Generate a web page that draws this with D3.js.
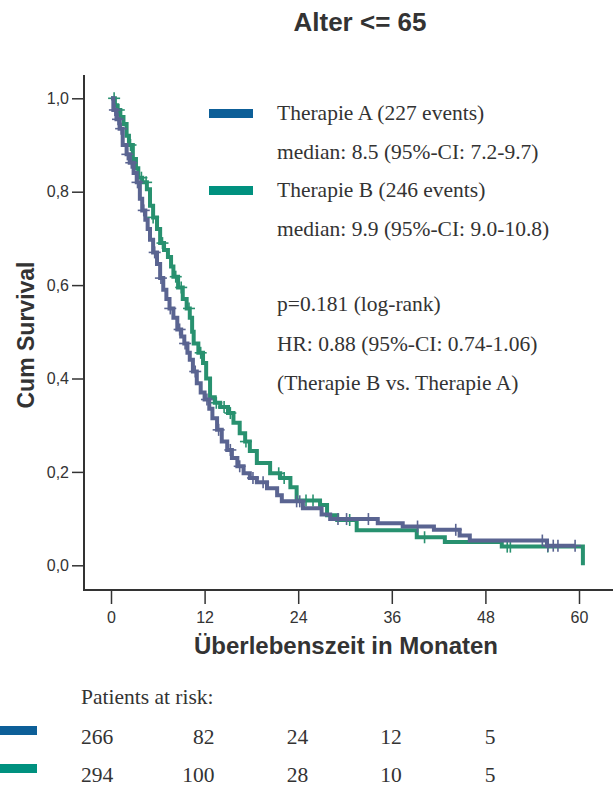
<!DOCTYPE html>
<html>
<head>
<meta charset="utf-8">
<script src="https://cdn.jsdelivr.net/npm/d3@7"></script>
<style>
  body { margin: 0; background: #fff; }
  svg { display: block; }
  .sans { font-family: "Liberation Sans", Arial, sans-serif; fill: #333; }
</style>
</head>
<body>
<svg width="613" height="787"></svg>
<script>
// Therapie A (blue) - step points
var monthsA = [0, 0.3, 0.7, 1.1, 1.5, 2.0, 2.4, 2.9, 3.3, 3.7, 4.0, 4.4, 4.7, 5.0, 5.4, 5.9, 6.3, 6.7, 7.1, 7.5,
  8.0, 8.5, 9.0, 9.4, 9.8, 10.1, 10.5, 11.0, 11.5, 12.0, 12.6, 13.0, 13.6, 14.2, 14.9, 15.5, 16.2, 17.0, 17.8,
  18.7, 20.0, 21.3, 21.9, 24.6, 27.0, 28.1, 34.2, 37.4, 41.4, 44.7, 46.0, 55.9, 59.5];
var survA = [1.0, 0.975, 0.955, 0.935, 0.9, 0.88, 0.862, 0.84, 0.82, 0.785, 0.76, 0.74, 0.72, 0.697, 0.67, 0.645,
  0.615, 0.59, 0.57, 0.55, 0.53, 0.505, 0.49, 0.475, 0.455, 0.44, 0.415, 0.39, 0.37, 0.355, 0.335, 0.315, 0.29,
  0.265, 0.247, 0.23, 0.212, 0.197, 0.187, 0.178, 0.165, 0.15, 0.137, 0.122, 0.109, 0.099, 0.09, 0.083, 0.076,
  0.064, 0.053, 0.042, 0.042];
var censorA = [0.5, 0.9, 1.3, 2.1, 2.6, 3.4, 4.2, 5.6, 6.4, 7.6, 8.8, 9.5, 10.8, 12.3, 13.8, 15.3, 16.5, 18.2,
  19.5, 23.8, 24.2, 29.1, 30.2, 33.0, 39.3, 44.2, 55.3, 56.0, 56.7, 57.3, 59.5];

// Therapie B (green)
var monthsB = [0, 0.5, 0.8, 1.2, 1.6, 2.0, 2.3, 2.8, 3.2, 3.5, 4.0, 4.6, 5.0, 5.4, 5.9, 6.3, 6.8, 7.3, 7.7, 8.0,
  8.6, 9.2, 9.7, 10.1, 10.4, 10.6, 11.2, 11.8, 12.2, 12.7, 13.3, 14.0, 15.0, 15.7, 16.5, 17.2, 17.8, 18.7, 20.4,
  21.7, 23.0, 23.8, 26.8, 27.7, 29.0, 31.5, 39.2, 42.8, 50.1, 60.5];
var survB = [1.0, 0.985, 0.975, 0.96, 0.945, 0.92, 0.9, 0.87, 0.85, 0.83, 0.82, 0.805, 0.77, 0.745, 0.72, 0.69,
  0.675, 0.66, 0.64, 0.618, 0.595, 0.57, 0.55, 0.53, 0.5, 0.475, 0.455, 0.433, 0.4, 0.36, 0.348, 0.339, 0.326,
  0.305, 0.283, 0.265, 0.245, 0.219, 0.197, 0.187, 0.167, 0.139, 0.129, 0.107, 0.097, 0.075, 0.06, 0.05, 0.04, 0];
var censorB = [0.4, 1.0, 2.5, 3.9, 4.5, 5.4, 6.6, 8.3, 9.0, 10.0, 11.5, 13.5, 14.5, 15.3, 17.3, 21.5, 22.2, 25.0,
  25.9, 30.6, 40.2, 50.8, 51.2, 56.0];

var xTicks = [0, 12, 24, 36, 48, 60];
var yTicks = [0, 0.2, 0.4, 0.6, 0.8, 1.0];

var legendA = ["Therapie A (227 events)", "median: 8.5 (95%-CI: 7.2-9.7)"];
var legendB = ["Therapie B (246 events)", "median: 9.9 (95%-CI: 9.0-10.8)"];
var statsText = ["p=0.181 (log-rank)", "HR: 0.88 (95%-CI: 0.74-1.06)", "(Therapie B vs. Therapie A)"];

var riskMonths = [0, 12, 24, 36, 48];
var riskA = [266, 82, 24, 12, 5];
var riskB = [294, 100, 28, 10, 5];

var curveA = "#5a6491", curveB = "#28916f";
var keyA = "#0d5f98", keyB = "#00917f";

var serifFont = "'Liberation Serif', 'Times New Roman', Times, serif";

var svg = d3.select("svg");

var x = d3.scaleLinear().domain([0, 60]).range([111, 579]),
    y = d3.scaleLinear().domain([0, 1]).range([565.3, 98.3]);

// title
svg.append("text").attr("class", "sans")
    .attr("x", 360).attr("y", 31)
    .attr("text-anchor", "middle")
    .style("font-size", "26px").style("font-weight", "bold")
    .text("Alter <= 65");

// frame (left + bottom)
svg.append("line").attr("x1", 84).attr("x2", 84).attr("y1", 75).attr("y2", 591)
    .attr("stroke", "#333").attr("stroke-width", 2);
svg.append("line").attr("x1", 83).attr("x2", 613).attr("y1", 590).attr("y2", 590)
    .attr("stroke", "#333").attr("stroke-width", 2);

var fmt = function(d) { return d3.format(".1f")(d).replace(".", ","); };

var yAxis = svg.append("g")
    .attr("transform", "translate(84,0)")
    .call(d3.axisLeft(y).tickValues(yTicks).tickFormat(fmt).tickSize(12).tickPadding(3));
yAxis.select(".domain").remove();
yAxis.selectAll("line").attr("stroke", "#333").attr("stroke-width", 1.5);
yAxis.selectAll("text").attr("class", "sans").style("font-size", "16px").attr("fill", "#333");

var xAxis = svg.append("g")
    .attr("transform", "translate(0,590)")
    .call(d3.axisBottom(x).tickValues(xTicks).tickSize(14));
xAxis.select(".domain").remove();
xAxis.selectAll("line").attr("stroke", "#333").attr("stroke-width", 1.5);
xAxis.selectAll("text").attr("class", "sans").style("font-size", "16px").attr("fill", "#333")
    .attr("y", 33).attr("dy", 0);

// axis titles
svg.append("text").attr("class", "sans")
    .attr("x", 346).attr("y", 654)
    .attr("text-anchor", "middle")
    .style("font-size", "24px").style("font-weight", "bold")
    .text("Überlebenszeit in Monaten");

svg.append("text").attr("class", "sans")
    .attr("transform", "translate(34,335) rotate(-90)")
    .attr("text-anchor", "middle")
    .style("font-size", "23px").style("font-weight", "bold")
    .text("Cum Survival");

// survival curves
var line = d3.line()
    .x(function(d) { return x(d[0]); })
    .y(function(d) { return y(d[1]); })
    .curve(d3.curveStepAfter);

function stepAt(months, surv, t) {
  var i = d3.bisectRight(months, t) - 1;
  return surv[Math.max(0, i)];
}

function drawSeries(months, surv, censor, color) {
  svg.append("path")
      .datum(d3.zip(months, surv))
      .attr("d", line)
      .attr("fill", "none")
      .attr("stroke", color)
      .attr("stroke-width", 4);

  var c = svg.append("g").attr("stroke", color).attr("stroke-width", 1.6);
  censor.forEach(function(t) {
    var cx = x(t), cy = y(stepAt(months, surv, t));
    c.append("line").attr("x1", cx).attr("x2", cx).attr("y1", cy - 6).attr("y2", cy + 6);
    c.append("line").attr("x1", cx - 6).attr("x2", cx + 6).attr("y1", cy).attr("y2", cy);
  });
}

drawSeries(monthsB, survB, censorB, curveB);
drawSeries(monthsA, survA, censorA, curveA);

// legend
var legRows = [
  {text: legendA[0], key: keyA, y: 120},
  {text: legendA[1], y: 159},
  {text: legendB[0], key: keyB, y: 197},
  {text: legendB[1], y: 236},
  {text: statsText[0], y: 311},
  {text: statsText[1], y: 351},
  {text: statsText[2], y: 390}
];
legRows.forEach(function(r) {
  if (r.key) {
    svg.append("rect").attr("x", 209).attr("y", r.y - 11).attr("width", 44).attr("height", 9)
        .attr("fill", r.key);
  }
  svg.append("text")
      .attr("x", 277).attr("y", r.y)
      .style("font-family", serifFont).style("font-size", "21.5px").attr("fill", "#333")
      .text(r.text);
});

// patients at risk
svg.append("text")
    .attr("x", 81).attr("y", 704)
    .style("font-family", serifFont).style("font-size", "21.5px").attr("fill", "#333")
    .text("Patients at risk:");

[[riskA, keyA, 744], [riskB, keyB, 782]].forEach(function(row) {
  svg.append("rect").attr("x", 0).attr("y", row[2] - 18).attr("width", 37).attr("height", 9)
      .attr("fill", row[1]);
  svg.selectAll(null)
      .data(row[0])
      .enter()
      .append("text")
      .style("font-family", serifFont).style("font-size", "21.5px").attr("fill", "#333")
      .attr("x", function(d, i) { return i === 0 ? 81 : x(riskMonths[i]) + 10; })
      .attr("text-anchor", function(d, i) { return i === 0 ? "start" : "end"; })
      .attr("y", row[2])
      .text(function(d) { return d; });
});
</script>
</body>
</html>
